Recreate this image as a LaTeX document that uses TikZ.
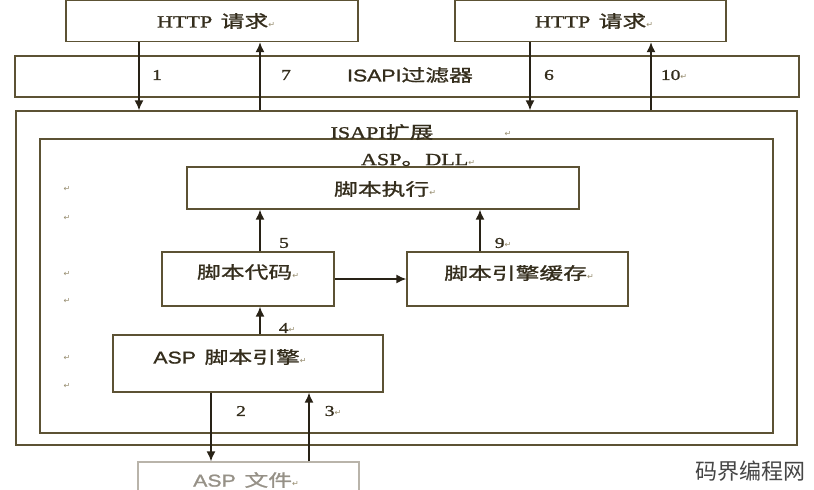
\documentclass[tikz,border=0pt]{standalone}
\usepackage{fontspec}
\usetikzlibrary{arrows.meta}
\newfontfamily\cjk[FakeStretch=1.4,FakeBold=1.2]{Noto Sans CJK SC}
\newfontfamily\wmfont{Noto Sans CJK SC}
\newfontfamily\lserif[FakeStretch=1.3,FakeBold=1.2]{Liberation Serif}
\newfontfamily\lsans[FakeStretch=1.25,FakeBold=1.2]{Liberation Sans}
\newfontfamily\symfont{DejaVu Sans}
\definecolor{linec}{RGB}{92,82,52}
\definecolor{arrc}{RGB}{40,34,22}
\definecolor{txtc}{RGB}{52,45,28}
\definecolor{retc}{RGB}{150,140,110}
\definecolor{grayc}{RGB}{185,180,170}
\definecolor{graytxt}{RGB}{150,145,135}
\newcommand\retmark{{\symfont\fontsize{8}{8}\selectfont\color{retc}↵}}
\tikzset{
  box/.style={draw=linec, line width=1.4pt, rectangle, inner sep=0pt},
  filebox/.style={draw=grayc, line width=1.4pt, rectangle, inner sep=0pt},
  arr/.style={draw=arrc, line width=1.5pt, -{Latex[length=10pt,width=9pt]}},
  txt/.style={text=txtc, inner sep=0pt, font=\fontsize{17}{19}\selectfont},
  num/.style={text=txtc, inner sep=0pt, font=\lserif\fontsize{15}{17}\selectfont},
  retnode/.style={inner sep=0pt}
}
\begin{document}
\begin{tikzpicture}[x=1pt,y=-1pt]
\clip (0,0) rectangle (814,490);
\fill[white] (0,0) rectangle (814,490);
% boxes
\node[box, minimum width=292pt, minimum height=41pt] (http1) at (212,21) {};
\node[box, minimum width=271pt, minimum height=41pt] (http2) at (590.5,21) {};
\node[box, minimum width=784pt, minimum height=41pt] (filter) at (407,76.5) {};
\node[box, minimum width=781pt, minimum height=334pt] (outer) at (406.5,278) {};
\node[box, minimum width=733pt, minimum height=294pt] (inner) at (406.5,286) {};
\node[box, minimum width=392pt, minimum height=42pt] (exec) at (383,188) {};
\node[box, minimum width=172pt, minimum height=54pt] (code) at (248,279) {};
\node[box, minimum width=221pt, minimum height=54pt] (cache) at (517.5,279) {};
\node[box, minimum width=270pt, minimum height=57pt] (engine) at (248,363.5) {};
\node[filebox, minimum width=221pt, minimum height=40pt] (file) at (248.5,482) {};
% texts
\node[txt] (thttp1) at (216,21) {\lserif HTTP\, \cjk 请求\retmark};
\node[txt] (thttp2) at (594,21) {\lserif HTTP\, \cjk 请求\retmark};
\node[txt] (tfilter) at (410,75) {\lsans ISAPI\cjk 过滤器};
\node[txt] (text) at (382,132) {\lserif ISAPI\cjk 扩展};
\node[retnode] (textm) at (508,134) {\retmark};
\node[txt] (tdll) at (418,160) {\lserif ASP\cjk 。\lserif DLL\retmark};
\node[txt] (texec) at (385,189) {\cjk 脚本执行\retmark};
\node[txt] (tcode) at (248,272) {\cjk 脚本代码\retmark};
\node[txt] (tcache) at (519,273) {\cjk 脚本引擎缓存\retmark};
\node[txt] (tengine) at (230,357) {\lsans ASP\, \cjk 脚本引擎\retmark};
\node[txt, text=graytxt] (tfile) at (246,480) {\lsans ASP\, \cjk 文件\retmark};
% left margin marks
\node[retnode] (m1) at (67,189) {\retmark};
\node[retnode] (m2) at (67,218) {\retmark};
\node[retnode] (m3) at (67,274) {\retmark};
\node[retnode] (m4) at (67,301) {\retmark};
\node[retnode] (m5) at (67,358) {\retmark};
\node[retnode] (m6) at (67,386) {\retmark};
% arrows
\draw[arr] ([xshift=-73pt]http1.south) -- ([xshift=-73pt]http1.south |- outer.north);
\draw[arr] ([xshift=48pt]http1.south |- outer.north) -- ([xshift=48pt]http1.south);
\draw[arr] ([xshift=-60.5pt]http2.south) -- ([xshift=-60.5pt]http2.south |- outer.north);
\draw[arr] ([xshift=60.5pt]http2.south |- outer.north) -- ([xshift=60.5pt]http2.south);
\draw[arr] ([xshift=12pt]code.north) -- ([xshift=12pt]code.north |- exec.south);
\draw[arr] ([xshift=-37.5pt]cache.north) -- ([xshift=-37.5pt]cache.north |- exec.south);
\draw[arr] (code.east) -- (cache.west);
\draw[arr] ([xshift=12pt]engine.north) -- ([xshift=12pt]engine.north |- code.south);
\draw[arr] ([xshift=-37pt]engine.south) -- ([xshift=-37pt]engine.south |- file.north);
\draw[arr] ([xshift=61pt]engine.south |- file.north) -- ([xshift=61pt]engine.south);
% numbers
\node[num] (n1) at (157,75) {1};
\node[num] (n7) at (286,75) {7};
\node[num] (n6) at (549,75) {6};
\node[num] (n10) at (674,75) {10\retmark};
\node[num] (n5) at (284,243) {5};
\node[num] (n9) at (503,243) {9\retmark};
\node[num] (n4) at (287,328) {4\retmark};
\node[num] (n2) at (241,411) {2};
\node[num] (n3) at (333,411) {3\retmark};
% watermark
\node[inner sep=0pt, text={rgb,255:red,70;green,70;blue,70}, font=\wmfont\fontsize{22}{24}\selectfont] (wm) at (750,471) {码界编程网};
\end{tikzpicture}
\end{document}
